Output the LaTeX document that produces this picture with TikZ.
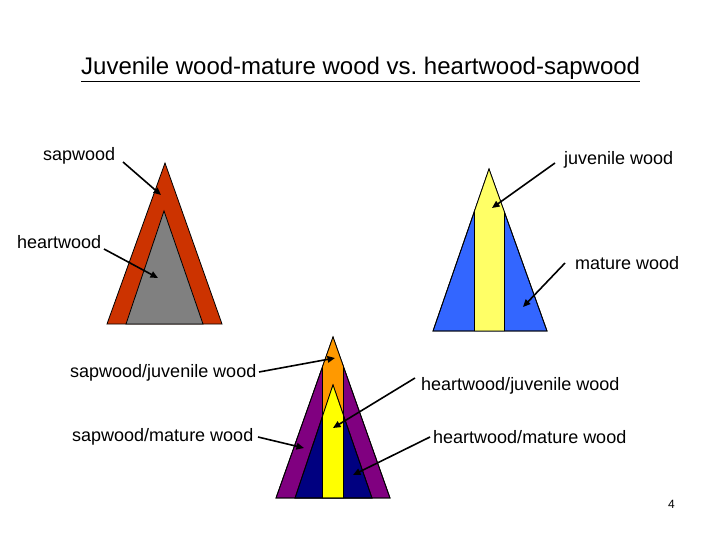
\documentclass[tikz,border=0pt]{standalone}
\usepackage{fontspec}
\setmainfont{Liberation Sans}
\usetikzlibrary{arrows.meta}
\frenchspacing
\definecolor{sapred}{RGB}{204,51,0}
\definecolor{heartgray}{RGB}{128,128,128}
\definecolor{matblue}{RGB}{51,102,255}
\definecolor{juvyel}{RGB}{255,255,102}
\definecolor{sjorange}{RGB}{255,153,0}
\definecolor{smpurple}{RGB}{128,0,128}
\definecolor{hmnavy}{RGB}{0,0,128}
\definecolor{hjyellow}{RGB}{255,255,0}
\tikzset{
  lbl/.style={inner sep=0pt, anchor=base west, font=\fontsize{18}{20}\selectfont},
  part/.style={draw=black, line width=0.8pt, line join=miter},
  pointer/.style={draw=black, line width=1.6pt, -{Triangle[length=7.5pt,width=6.5pt]}}
}
\begin{document}
\begin{tikzpicture}[x=1pt,y=-1pt]
\useasboundingbox (0,0) rectangle (720,540);
% title
\node[inner sep=0pt, anchor=base west, font=\fontsize{24}{28}\selectfont] (title) at (81,75) {\underline{Juvenile wood-mature wood vs. heartwood-sapwood}};

% triangle 1: sapwood / heartwood
\path[part, fill=sapred] (107,324) -- (165,163) -- (222,324) -- cycle;
\path[part, fill=heartgray] (126,324) -- (164,211) -- (203,324) -- cycle;

% triangle 2: juvenile / mature
\path[part, fill=matblue] (433,331) -- (489,169) -- (547,331) -- cycle;
\begin{scope}
  \clip (433,331) -- (489,169) -- (547,331) -- cycle;
  \path[part, fill=juvyel] (474,150) rectangle (504,331);
\end{scope}
\path[draw=black, line width=0.8pt] (433,331) -- (489,169) -- (547,331) -- cycle;

% triangle 3: combined
\path[part, fill=smpurple] (276,498) -- (333,337) -- (390,498) -- cycle;
\begin{scope}
  \clip (276,498) -- (333,337) -- (390,498) -- cycle;
  \path[part, fill=sjorange] (322,320) rectangle (343,498);
\end{scope}
\path[part, fill=hmnavy] (295,498) -- (333,385) -- (372,498) -- cycle;
\begin{scope}
  \clip (295,498) -- (333,385) -- (372,498) -- cycle;
  \path[part, fill=hjyellow] (322,370) rectangle (343,498);
\end{scope}
\path[draw=black, line width=0.8pt] (295,498) -- (333,385) -- (372,498) -- cycle;
\path[draw=black, line width=0.8pt] (276,498) -- (333,337) -- (390,498) -- cycle;

% labels
\node[lbl] (sap) at (43,161) {sapwood};
\node[lbl] (heart) at (17,248) {heartwood};
\node[lbl] (juv) at (564,165) {juvenile wood};
\node[lbl] (mat) at (575,269) {mature wood};
\node[lbl] (sj) at (70,377) {sapwood/juvenile wood};
\node[lbl] (sm) at (72,441) {sapwood/mature wood};
\node[lbl] (hj) at (421,390) {heartwood/juvenile wood};
\node[lbl] (hm) at (433,443) {heartwood/mature wood};
\node[inner sep=0pt, anchor=base west, font=\fontsize{12}{14}\selectfont] (pg) at (668,508) {4};

% arrow endpoints
\coordinate (sapS) at (123,162);  \coordinate (sapE) at (161,195);
\coordinate (heartS) at (104,249); \coordinate (heartE) at (158,278);
\coordinate (juvS) at (555,163);  \coordinate (juvE) at (492,208);
\coordinate (matS) at (565,263);  \coordinate (matE) at (523,307);
\coordinate (sjS) at (259,372);   \coordinate (sjE) at (335,358);
\coordinate (smS) at (258,437);   \coordinate (smE) at (304,448);
\coordinate (hjS) at (415,378);   \coordinate (hjE) at (333,428);
\coordinate (hmS) at (430,437);   \coordinate (hmE) at (353,475);

\draw[pointer] (sapS) -- (sapE);
\draw[pointer] (heartS) -- (heartE);
\draw[pointer] (juvS) -- (juvE);
\draw[pointer] (matS) -- (matE);
\draw[pointer] (sjS) -- (sjE);
\draw[pointer] (smS) -- (smE);
\draw[pointer] (hjS) -- (hjE);
\draw[pointer] (hmS) -- (hmE);
\end{tikzpicture}
\end{document}
